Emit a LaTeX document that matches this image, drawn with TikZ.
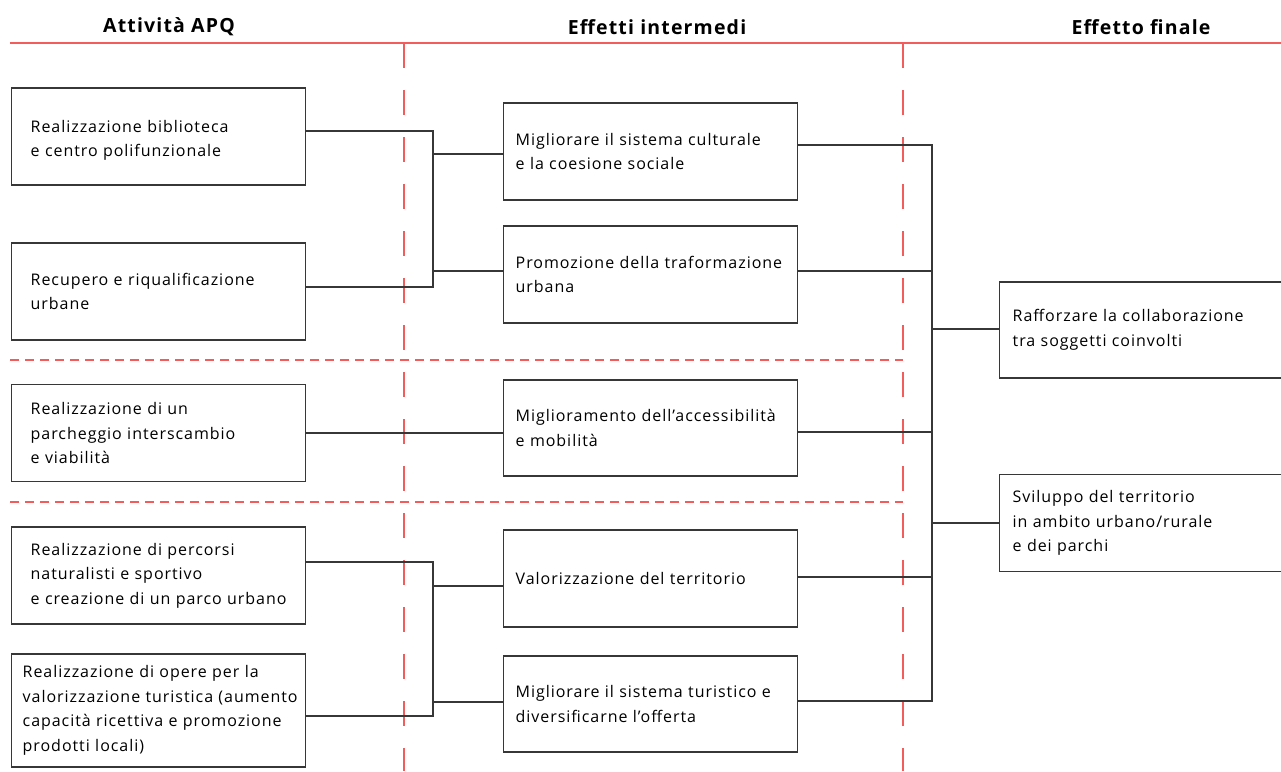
\documentclass[tikz,border=0pt]{standalone}
\usepackage{fontspec}
\setmainfont{Open Sans}[LetterSpace=6]
\definecolor{apqred}{RGB}{242,92,92}
\definecolor{apqline}{RGB}{55,55,55}

\begin{document}
\begin{tikzpicture}[
  x=1pt,y=-1pt,
  font=\fontsize{16}{24.5}\selectfont,
  hdr/.style={font=\fontsize{19.5}{22}\selectfont\bfseries},
  box/.style={draw=apqline,line width=1.4pt,align=left,anchor=west,minimum height=97pt,text width=256pt,inner xsep=19pt,inner ysep=0pt},
  mid/.style={box,text width=270pt,inner xsep=12pt},
  fin/.style={box,text width=290pt,inner xsep=13pt},
  link/.style={draw=apqline,line width=1.4pt},
  rule/.style={draw=apqred,line width=1.5pt},
  col/.style={rule,dash pattern=on 25pt off 22pt},
  row/.style={rule,dash pattern=on 9pt off 6pt},
]
\clip (0,0) rectangle (1281,771);

% headers and red guides
\node[hdr] (h1) at (169,27) {Attività APQ};
\node[hdr] (h2) at (657,27) {Effetti intermedi};
\node[hdr] (h3) at (1141,27) {Effetto finale};
\draw[rule] (10,43) -- (1281,43);
\draw[col] (404,43) -- (404,771);
\draw[col] (903,43) -- (903,771);
\draw[row] (10,360) -- (903,360);
\draw[row] (10,502) -- (903,502);

% activities
\node[box] (act1) at (11,136.5) {\rule{0pt}{20pt}Realizzazione biblioteca\\e centro polifunzionale};
\node[box] (act2) at (11,291.5) {Recupero e riqualificazione\\urbane};
\node[box] (act3) at (11,433) {Realizzazione di un\\parcheggio interscambio\\e viabilità};
\node[box] (act4) at (11,575.5) {Realizzazione di percorsi\\naturalisti e sportivo\\e creazione di un parco urbano};
\node[box,minimum height=113pt,text width=272pt,inner xsep=11pt] (act5) at (11,710.5) {Realizzazione di opere per la\\\mbox{valorizzazione turistica (aumento}\\capacità ricettiva e promozione\\prodotti locali)};

% intermediate effects
\node[mid] (eff1) at (503,151.5) {Migliorare il sistema culturale\\e la coesione sociale};
\node[mid] (eff2) at (503,274.5) {Promozione della traformazione\\urbana};
\node[mid,minimum height=96pt] (eff3) at (503,428) {Miglioramento dell’accessibilità\\e mobilità};
\node[mid] (eff4) at (503,578.5) {Valorizzazione del territorio};
\node[mid,minimum height=96pt] (eff5) at (503,704) {Migliorare il sistema turistico e\\diversificarne l’offerta};

% final effects
\node[fin,minimum height=96pt] (fin1) at (999,330) {Rafforzare la collaborazione\\tra soggetti coinvolti};
\node[fin] (fin2) at (999,523) {Sviluppo del territorio\\in ambito urbano/rurale\\e dei parchi};

% junctions
\coordinate (jl) at (433,0);
\coordinate (jr) at (932,0);
\coordinate (a1) at ([yshift=5.5pt]act1.east);
\coordinate (a2) at ([yshift=4.5pt]act2.east);
\coordinate (a4) at ([yshift=13.5pt]act4.east);
\coordinate (a5) at ([yshift=-5.5pt]act5.east);
\coordinate (b1) at ([yshift=-2.5pt]eff1.west);
\coordinate (b2) at ([yshift=3.5pt]eff2.west);
\coordinate (b4) at ([yshift=-7.5pt]eff4.west);
\coordinate (b5) at ([yshift=2pt]eff5.west);
\coordinate (c1) at ([yshift=6.5pt]eff1.east);
\coordinate (c2) at ([yshift=3.5pt]eff2.east);
\coordinate (c3) at ([yshift=-4pt]eff3.east);
\coordinate (c4) at ([yshift=1.5pt]eff4.east);
\coordinate (c5) at ([yshift=3pt]eff5.east);
\coordinate (d1) at ([yshift=1pt]fin1.west);

% connectors
\draw[link] (a1) -| (jl |- a2) -- (a2);
\draw[link] (jl |- b1) -- (b1);
\draw[link] (jl |- b2) -- (b2);
\draw[link] (act3.east) -- (eff3.west |- act3.east);
\draw[link] (a4) -| (jl |- a5) -- (a5);
\draw[link] (jl |- b4) -- (b4);
\draw[link] (jl |- b5) -- (b5);
\draw[link] (c1) -| (jr |- c5) -- (c5);
\draw[link] (c2) -- (jr |- c2);
\draw[link] (c3) -- (jr |- c3);
\draw[link] (c4) -- (jr |- c4);
\draw[link] (jr |- d1) -- (d1);
\draw[link] (jr |- fin2.west) -- (fin2.west);
\end{tikzpicture}
\end{document}
